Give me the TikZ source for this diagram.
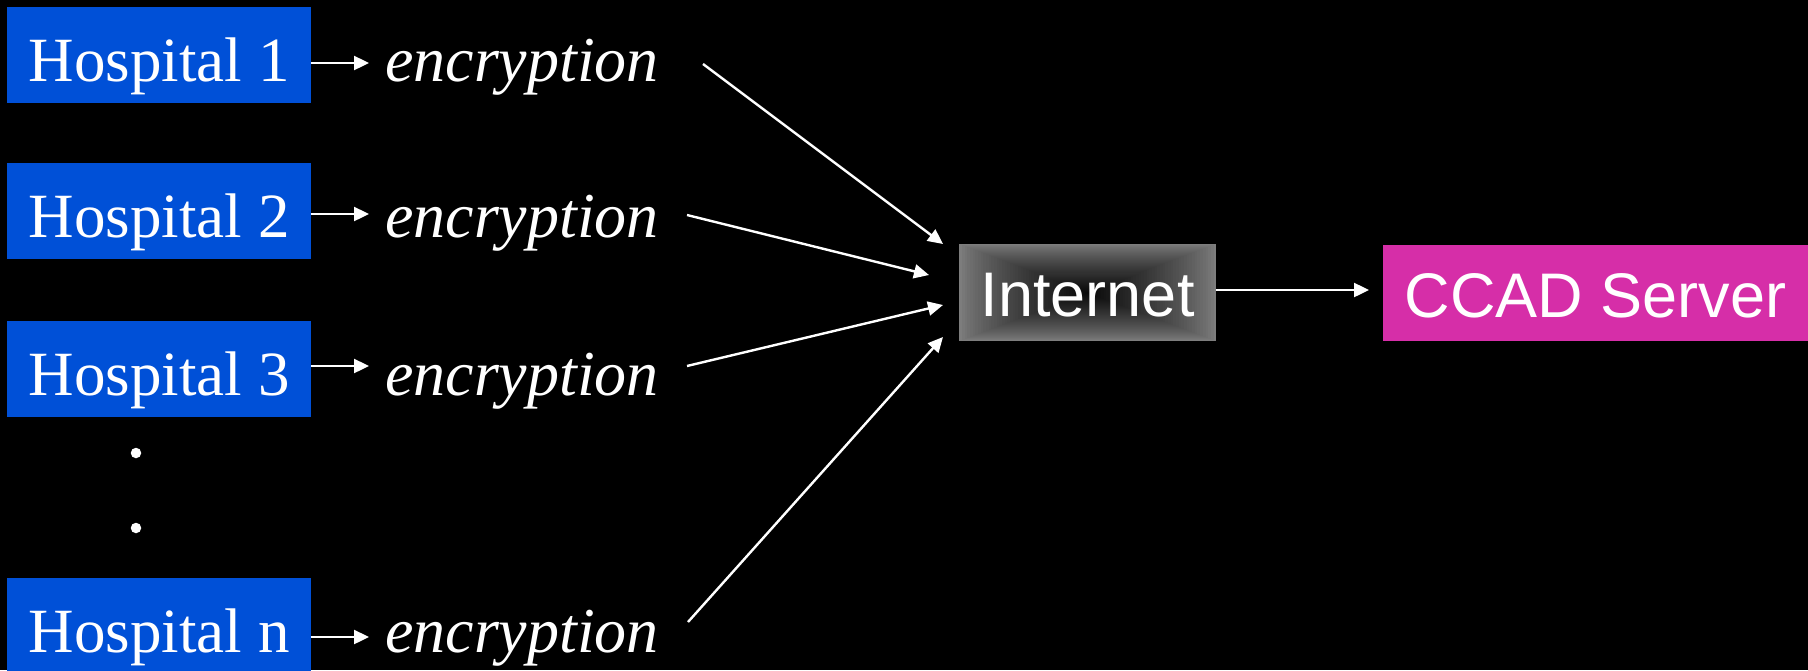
\documentclass[tikz,border=0pt]{standalone}
\usepackage{fontspec}
\setmainfont{Liberation Serif}
\setsansfont{Liberation Sans}
\usetikzlibrary{arrows.meta,calc}
\definecolor{hospblue}{RGB}{0,80,215}
\definecolor{ccadmag}{RGB}{214,46,168}
\definecolor{egray}{RGB}{125,125,125}
\definecolor{cgray}{RGB}{8,8,8}
\tikzset{
  hosp/.style={anchor=north west, fill=hospblue, text=white, inner sep=0pt,
    minimum width=304pt, minimum height=96pt, text height=52pt, text depth=0pt,
    font=\fontsize{63}{70}\selectfont},
  enc/.style={anchor=base west, inner sep=0pt, text=white,
    font=\fontsize{64}{70}\selectfont\itshape},
  dotmark/.style={circle, fill=white, inner sep=0pt, minimum size=10.5pt},
  sansbox/.style={anchor=north west, text=white, inner sep=0pt,
    font=\sffamily\fontsize{63}{70}\selectfont, text height=48pt, text depth=0pt},
  arr/.style={draw=white, line width=2.4pt, -{Triangle[length=15pt,width=14pt]}},
}
\begin{document}
\begin{tikzpicture}[x=1pt,y=-1pt]
\fill[black] (0,0) rectangle (1808,670);
\useasboundingbox (0,0) rectangle (1808,670);

% hospital boxes
\node[hosp] (h1) at (7,7) {Hospital 1};
\node[hosp] (h2) at (7,163) {Hospital 2};
\node[hosp] (h3) at (7,321) {Hospital 3};
\node[hosp] (hn) at (7,578) {Hospital n};

% dots
\node[dotmark] (d1) at (136,453) {};
\node[dotmark] (d2) at (136,528) {};

% encryption labels
\node[enc] (e1) at (385,81) {encryption};
\node[enc] (e2) at (385,237) {encryption};
\node[enc] (e3) at (385,395) {encryption};
\node[enc] (en) at (385,652) {encryption};

% small arrow tips
\coordinate (t1) at (369,63);
\coordinate (t2) at (369,214);
\coordinate (t3) at (369,366);
\coordinate (tn) at (369,637);
\draw[arr] (h1.east |- t1) -- (t1);
\draw[arr] (h2.east |- t2) -- (t2);
\draw[arr] (h3.east |- t3) -- (t3);
\draw[arr] (hn.east |- tn) -- (tn);

% Internet box with box gradient
\node[sansbox, minimum width=257pt, minimum height=97pt,
  path picture={
    \foreach \i in {0,...,48}{
      \pgfmathsetmacro\s{1-\i/48}
      \pgfmathsetmacro\p{100*(\i/48)^0.8}
      \fill[cgray!\p!egray]
        ($(path picture bounding box.center)!\s!(path picture bounding box.north east)$)
        rectangle
        ($(path picture bounding box.center)!\s!(path picture bounding box.south west)$);
    }
  }] (inet) at (959,244) {Internet};

% CCAD server
\node[sansbox, fill=ccadmag, minimum width=425pt, minimum height=96pt]
  (ccad) at (1383,245) {CCAD Server};

% big arrows
\coordinate (s1) at (703,64);
\coordinate (s2) at (687,215);
\coordinate (s3) at (687,366);
\coordinate (sn) at (688,622);
\coordinate (g1) at (943,244);
\coordinate (g2) at (929,275);
\coordinate (g3) at (943,305);
\coordinate (gn) at (943,337);
\draw[arr] (s1) -- (g1);
\draw[arr] (s2) -- (g2);
\draw[arr] (s3) -- (g3);
\draw[arr] (sn) -- (gn);

\draw[arr, shorten >=14pt] (inet.east |- 0,290) -- (ccad.west |- 0,290);
\end{tikzpicture}
\end{document}
